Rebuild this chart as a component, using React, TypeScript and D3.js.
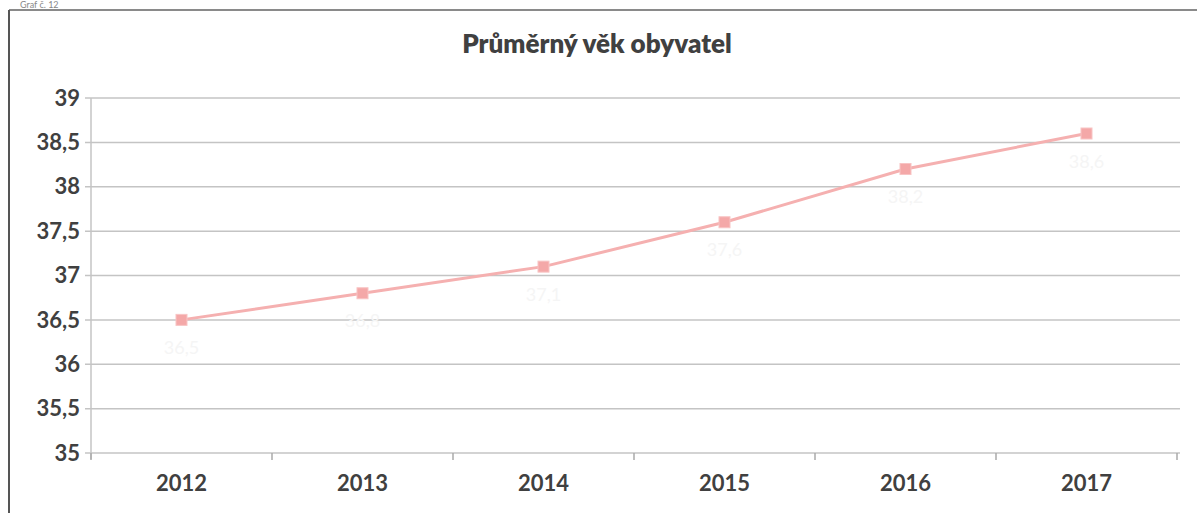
import React from "react";
import * as d3 from "d3";

const years = ["2012", "2013", "2014", "2015", "2016", "2017"];
const values = [36.5, 36.8, 37.1, 37.6, 38.2, 38.6];
const yTicks = [35, 35.5, 36, 36.5, 37, 37.5, 38, 38.5, 39];
const title = "Průměrný věk obyvatel";
const caption = "Graf č. 12";

const W = 1197;
const H = 513;
const M = { left: 91, right: 1177, top: 98, bottom: 453 };

export default function App() {
  const x = d3.scaleBand<string>().domain(years).range([M.left, M.right]);
  const y = d3.scaleLinear().domain([35, 39]).range([M.bottom, M.top]);
  const fmt = (v: number) => String(v).replace(".", ",");
  const cx = (d: string) => (x(d) ?? 0) + x.bandwidth() / 2;
  const line = d3
    .line<number>()
    .x((_, i) => cx(years[i]))
    .y((v) => y(v));
  const gridColor = "#c4c4c4";
  const textColor = "#404040";
  const font = "Lato, 'Open Sans', sans-serif";
  const boundaries = [...years.map((d) => x(d) ?? 0), M.right];

  return (
    <svg
      width={W}
      height={H}
      style={{ position: "absolute", left: 0, top: 0, background: "#fff" }}
      fontFamily={font}
    >
      <rect x={0} y={0} width={W} height={H} fill="#fff" />
      <text x={20} y={8} fontSize={9} fill="#888">{caption}</text>
      {/* outer frame */}
      <line x1={9} x2={W} y1={10} y2={10} stroke="#8a8a8a" strokeWidth={2} />
      <line x1={9} x2={9} y1={10} y2={H} stroke="#555" strokeWidth={2} />
      <text
        x={597}
        y={53}
        textAnchor="middle"
        fontSize={26}
        fontWeight={800}
        fill={textColor}
      >
        {title}
      </text>
      {/* gridlines */}
      {yTicks.map((t) => (
        <line
          key={t}
          x1={M.left - 6}
          x2={M.right + 3}
          y1={y(t)}
          y2={y(t)}
          stroke={gridColor}
          strokeWidth={1.5}
        />
      ))}
      {/* y axis line */}
      <line x1={M.left} x2={M.left} y1={M.top} y2={M.bottom + 6} stroke={gridColor} strokeWidth={1.5} />
      {boundaries.map((b, i) => (
        <line key={i} x1={b} x2={b} y1={M.bottom} y2={M.bottom + 7} stroke="#aaa" strokeWidth={1.5} />
      ))}
      {yTicks.map((t) => (
        <text
          key={t}
          x={M.left - 11}
          y={y(t)}
          dy="0.35em"
          textAnchor="end"
          fontSize={22}
          fontWeight={700}
          fill={textColor}
        >
          {fmt(t)}
        </text>
      ))}
      {years.map((d) => (
        <text
          key={d}
          x={cx(d)}
          y={M.bottom + 38}
          textAnchor="middle"
          fontSize={22}
          fontWeight={700}
          fill={textColor}
        >
          {d}
        </text>
      ))}
      <path d={line(values) ?? ""} fill="none" stroke="#f5b0b0" strokeWidth={3} />
      {values.map((v, i) => (
        <rect
          key={i}
          x={cx(years[i]) - 5.5}
          y={y(v) - 5.5}
          width={11}
          height={11}
          fill="#f4a8a8"
          stroke="#f8c4c4"
          strokeWidth={1}
        />
      ))}
      {values.map((v, i) => (
        <text
          key={"l" + i}
          x={cx(years[i])}
          y={y(v) + 34}
          textAnchor="middle"
          fontSize={18}
          fill="#f5f5f5"
        >
          {fmt(v)}
        </text>
      ))}
    </svg>
  );
}
